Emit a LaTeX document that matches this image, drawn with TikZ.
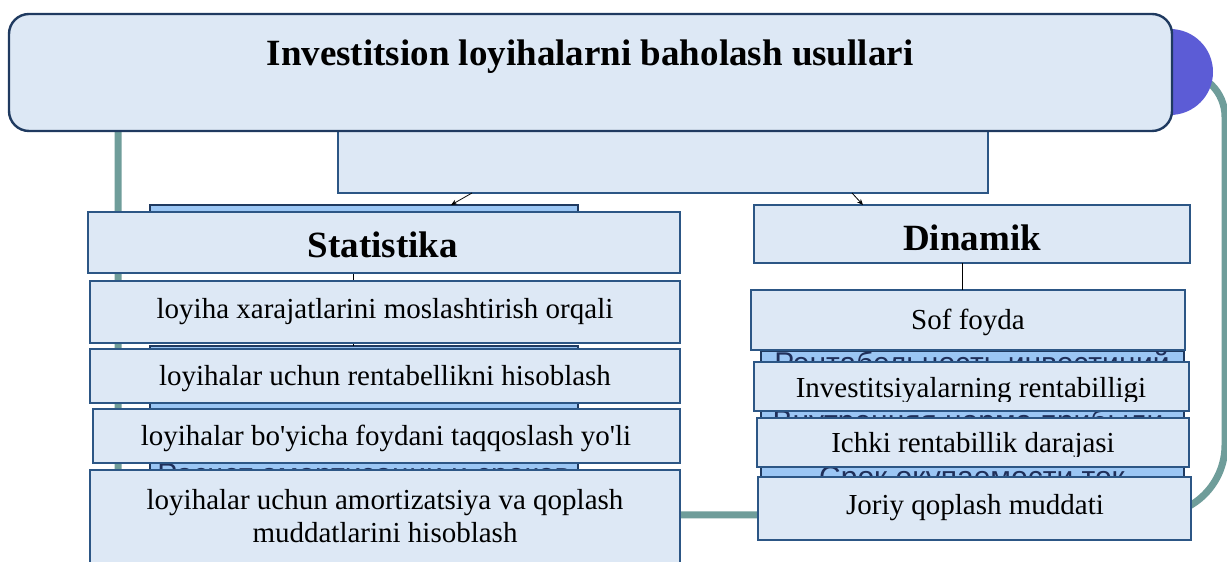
\documentclass[tikz,border=0pt]{standalone}
\usepackage{fontspec}
\setmainfont{Liberation Serif}
\newfontfamily\cyrsans{Liberation Sans}
\usetikzlibrary{arrows.meta}
\definecolor{boxfill}{HTML}{DDE8F5}
\definecolor{boxline}{HTML}{2C5685}
\definecolor{titleline}{HTML}{1F3A60}
\definecolor{backfill}{HTML}{9BC6F4}
\definecolor{loopteal}{HTML}{6F9D9A}
\definecolor{discpurple}{HTML}{5C5CD6}
\definecolor{cyrtext}{HTML}{1F2F5A}

\begin{document}
\begin{tikzpicture}[x=1pt,y=1pt,
  panel/.style={draw=boxline, line width=2.4pt, fill=boxfill, inner sep=0pt, outer sep=0pt},
  headpanel/.style={panel, draw=titleline, rounded corners=20pt},
  backpanel/.style={draw=titleline, line width=1.2pt, fill=backfill, inner sep=0pt, outer sep=0pt},
  bodytext/.style={font=\fontsize{29}{33}\selectfont, inner sep=0pt, anchor=base},
  headtext/.style={font=\fontsize{37}{40}\selectfont\bfseries, inner sep=0pt, anchor=base},
  backtext/.style={font=\cyrsans\fontsize{30}{34}\selectfont, text=cyrtext, inner sep=0pt, anchor=base},
  loopline/.style={draw=loopteal, line width=7pt},
  link/.style={draw=black, line width=0.8pt},
  pointer/.style={link, -{Stealth[length=6pt,width=5pt]}}
]
% canvas
\fill[white] (0,0) rectangle (1227,562);
\useasboundingbox (0,0) rectangle (1227,562);

% teal frame running behind the whole scheme
\draw[loopline] (158,490) -- (1180,490) arc[start angle=90,end angle=0,radius=45]
  -- (1225,117) arc[start angle=0,end angle=-90,radius=70]
  -- (158,47) arc[start angle=270,end angle=180,radius=40]
  -- (118,450) arc[start angle=180,end angle=90,radius=40] -- cycle;

% purple disc and heading
\node[circle, fill=discpurple, minimum size=86pt, inner sep=0pt] (disc) at (1170,490) {};
\node[panel, minimum width=650pt, minimum height=62pt] (sub) at (663,400) {};
\node[headpanel, minimum width=1163pt, minimum height=117pt] (head) at (590.5,489.5) {};
\node[headtext] (headlabel) at (590,496) {Investitsion loyihalarni baholash usullari};

% layer underneath: left column
\node[backpanel, minimum width=428pt, minimum height=65pt] (backL1) at (364,324.5) {};
\node[backpanel, minimum width=428pt, minimum height=214pt] (backL2) at (364,109) {};
\node[backtext] (backL2label) at (364,77) {Расчет амортизации и сроков};
\coordinate (lcol) at (353,0);
\draw[link] (backL1.south -| lcol) -- (backL2.north -| lcol);

% layer underneath: right column
\node[backpanel, minimum width=423pt, minimum height=189pt] (backR) at (972.5,116.5) {};
\node[backtext] (backRa) at (972,188) {Рентабельность инвестиций};
\node[backtext] (backRb) at (968,130) {Внутренняя норма прибыли};
\node[backtext] (backRc) at (972,74) {Срок окупаемости ток};

% arrows from the heading strip
\coordinate (a1s) at (472,0);
\coordinate (a1e) at (451,0);
\coordinate (a2s) at (852,0);
\coordinate (a2e) at (863,0);
\draw[pointer] (sub.south -| a1s) -- (backL1.north -| a1e);

% left group
\node[panel, minimum width=592pt, minimum height=61pt] (stat) at (384,319.5) {};
\node[headtext] (statlabel) at (383,304) {Statistika};
\node[panel, minimum width=590pt, minimum height=62pt] (s1) at (385,250) {};
\node[bodytext] (s1label) at (385,243) {loyiha xarajatlarini moslashtirish orqali};
\node[panel, minimum width=590pt, minimum height=54pt] (s2) at (385,186) {};
\node[bodytext] (s2label) at (385,176) {loyihalar uchun rentabellikni hisoblash};
\node[panel, minimum width=587pt, minimum height=54pt] (s3) at (386.5,126) {};
\node[bodytext] (s3label) at (386,116) {loyihalar bo\textquotesingle yicha foydani taqqoslash yo\textquotesingle li};
\node[panel, minimum width=590pt, minimum height=102pt] (s4) at (385,41) {};
\node[bodytext, anchor=center, align=center] (s4label) at (385,46)
  {loyihalar uchun amortizatsiya va qoplash\\muddatlarini hisoblash};

% right group
\coordinate (dcol) at (962,0);
\node[panel, minimum width=436pt, minimum height=58pt] (din) at (972,328) {};
\draw[pointer] (sub.south -| a2s) -- (din.north -| a2e);
\node[headtext] (dinlabel) at (972,311) {Dinamik};
\node[panel, minimum width=434pt, minimum height=60pt] (sof) at (968,242) {};
\draw[link] (din.south -| dcol) -- (sof.north -| dcol);
\node[bodytext] (soflabel) at (968,232) {Sof foyda};
\node[panel, minimum width=435pt, minimum height=49pt] (inv) at (971.5,175.5) {};
\begin{scope}
  \clip (754,160) rectangle (1189,200);
  \node[bodytext] (invlabel) at (971,164) {Investitsiyalarning rentabilligi};
\end{scope}
\node[panel, minimum width=432pt, minimum height=49pt] (ich) at (973,119.5) {};
\begin{scope}
  \clip (757,105) rectangle (1189,144);
  \node[bodytext] (ichlabel) at (973,109) {Ichki rentabillik darajasi};
\end{scope}
\node[panel, minimum width=433pt, minimum height=63pt] (jor) at (974.5,53.5) {};
\node[bodytext] (jorlabel) at (975,47) {Joriy qoplash muddati};
\end{tikzpicture}
\end{document}
